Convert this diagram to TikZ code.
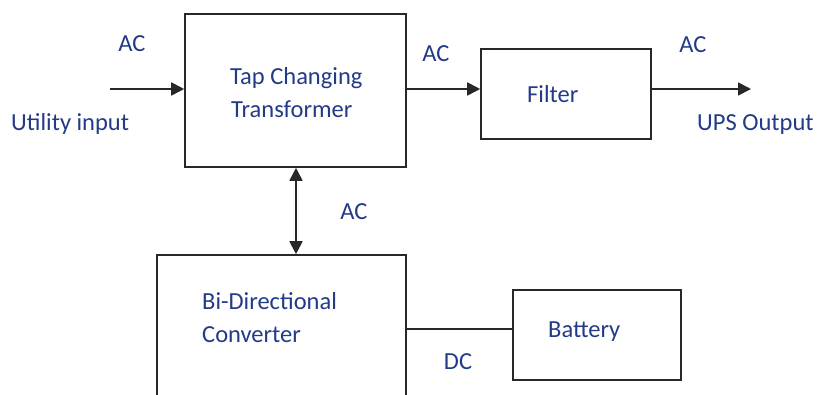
\documentclass[tikz,border=0pt]{standalone}
\usepackage{fontspec}
\setmainfont{Carlito}
\usetikzlibrary{arrows.meta}
\definecolor{txtblue}{RGB}{35,58,135}
\definecolor{linegray}{RGB}{40,40,40}
\begin{document}
\begin{tikzpicture}[x=1pt,y=-1pt,
  blockbox/.style={draw=linegray,line width=1.6pt,inner sep=0pt,minimum width=#1},
  lbl/.style={text=txtblue,inner sep=0pt,font=\fontsize{24.5}{28}\selectfont},
  conn/.style={draw=linegray,line width=1.8pt},
  arr/.style={conn,-{Triangle[length=13pt,width=13pt]}},
  darr/.style={conn,{Triangle[length=13pt,width=13pt]}-{Triangle[length=13pt,width=13pt]}}]
\useasboundingbox (0,0) rectangle (817,394);
\clip (0,0) rectangle (817,394);
% boxes
\node[blockbox=221pt,minimum height=153pt] (tct) at (295.5,90.5) {};
\node[blockbox=170pt,minimum height=90pt] (filt) at (566,94) {};
\node[blockbox=249pt,minimum height=165pt] (bdc) at (281.5,337.5) {};
\node[blockbox=168pt,minimum height=90pt] (batt) at (597,335) {};
% free ends
\coordinate (inp) at (110,89);
\coordinate (outp) at (751,89);
% connectors
\draw[arr] (inp) -- (inp -| tct.west);
\draw[arr] (tct.east |- inp) -- (filt.west |- inp);
\draw[arr] (filt.east |- inp) -- (outp);
\draw[darr] (tct.south -| 296,0) -- (bdc.north -| 296,0);
\draw[conn] (bdc.east |- 0,329) -- (batt.west |- 0,329);
% labels
\node[lbl,anchor=mid] (ac1) at (132,49) {AC};
\node[lbl,anchor=mid west] (util) at (11,128) {Utility input};
\node[lbl,anchor=mid west] (tap) at (230,82) {Tap Changing};
\node[lbl,anchor=mid west] (trans) at (231,115) {Transformer};
\node[lbl,anchor=mid] (ac2) at (436,59) {AC};
\node[lbl,anchor=mid west] (filtxt) at (527,100) {Filter};
\node[lbl,anchor=mid] (ac3) at (693,50) {AC};
\node[lbl,anchor=mid west] (ups) at (697,128) {UPS Output};
\node[lbl,anchor=mid] (ac4) at (354,217) {AC};
\node[lbl,anchor=mid west] (bi) at (202,307) {Bi-Directional};
\node[lbl,anchor=mid west] (conv) at (202,340) {Converter};
\node[lbl,anchor=mid west] (battxt) at (548,335) {Battery};
\node[lbl,anchor=mid] (dc) at (458,367) {DC};
\end{tikzpicture}
\end{document}
